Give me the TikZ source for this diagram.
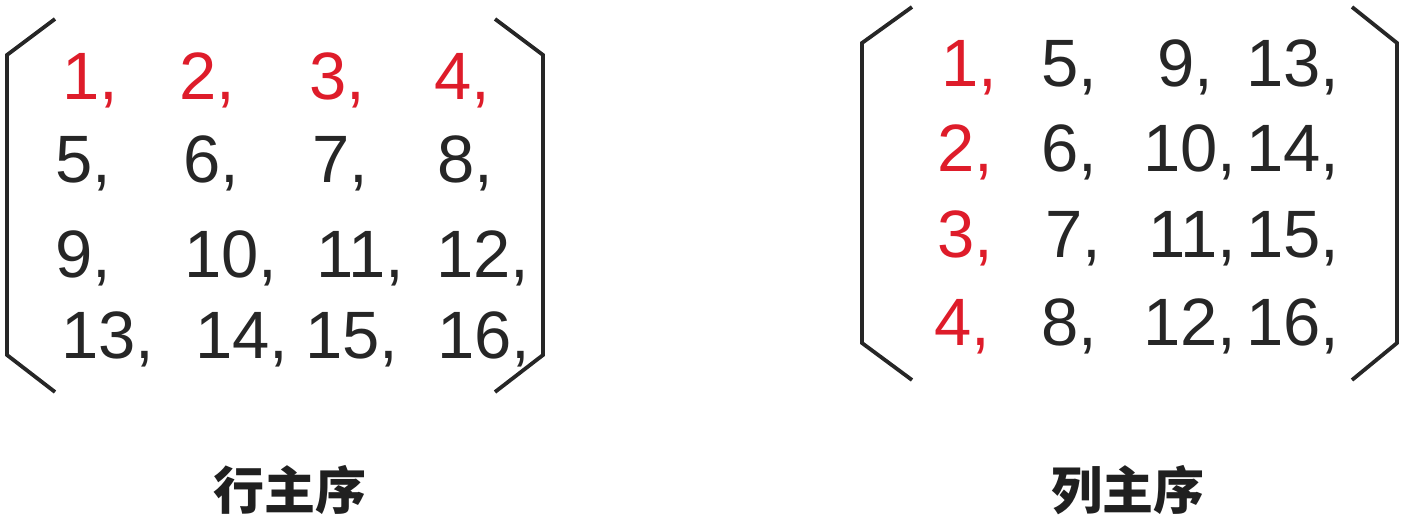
\documentclass[tikz,border=0pt]{standalone}
\usepackage{fontspec}
\setmainfont{Liberation Sans}
\newfontfamily\cjk{Noto Sans CJK SC}
\usepackage{tikz}
\usetikzlibrary{positioning}

\definecolor{numred}{RGB}{222,28,42}
\definecolor{numdark}{RGB}{38,38,38}

\begin{document}
\begin{tikzpicture}[
    x=1pt, y=-1pt,
    entry/.style={anchor=base west, inner sep=0pt, text=#1,
                  font=\fontsize{67}{80}\selectfont},
    entry/.default=numdark,
    brk/.style={line width=3.8pt, numdark, line join=miter},
    caption/.style={font=\cjk\bfseries\fontsize{51}{60}\selectfont, text=numdark!85!black},
]
\useasboundingbox (0,0) rectangle (1404,529);

% Row-major matrix
\node[entry=numred] (r11) at (62,100) {1,};
\node[entry=numred] (r12) at (179,100) {2,};
\node[entry=numred] (r13) at (309,100) {3,};
\node[entry=numred] (r14) at (434,100) {4,};
\node[entry] (r21) at (55,183) {5,};
\node[entry] (r22) at (183,183) {6,};
\node[entry] (r23) at (312,183) {7,};
\node[entry] (r24) at (437,183) {8,};
\node[entry] (r31) at (55,277) {9,};
\node[entry] (r32) at (184,277) {10,};
\node[entry] (r33) at (316,277) {11,};
\node[entry] (r34) at (436,277) {12,};
\node[entry] (r41) at (61,358) {13,};
\node[entry] (r42) at (195,358) {14,};
\node[entry] (r43) at (305,358) {15,};
\node[entry] (r44) at (437,358) {16,};

\draw[brk] (55,19) -- (7,55) -- (7,355) -- (55,392);
\draw[brk] (495,19) -- (543,55) -- (543,355) -- (495,392);

% Column-major matrix
\node[entry=numred] (c11) at (941,87) {1,};
\node[entry=numred] (c21) at (937,172) {2,};
\node[entry=numred] (c31) at (937,258) {3,};
\node[entry=numred] (c41) at (934,345) {4,};
\node[entry] (c12) at (1041,87) {5,};
\node[entry] (c22) at (1041,172) {6,};
\node[entry] (c32) at (1045,258) {7,};
\node[entry] (c42) at (1041,345) {8,};
\node[entry] (c13) at (1157,87) {9,};
\node[entry] (c23) at (1143,172) {10,};
\node[entry] (c33) at (1148,258) {11,};
\node[entry] (c43) at (1143,345) {12,};
\node[entry] (c14) at (1246,87) {13,};
\node[entry] (c24) at (1246,172) {14,};
\node[entry] (c34) at (1246,258) {15,};
\node[entry] (c44) at (1246,345) {16,};

\draw[brk] (912,7) -- (862,43) -- (862,343) -- (912,380);
\draw[brk] (1352,7) -- (1397,43) -- (1397,343) -- (1352,380);

% Captions
\node[caption] (rowcap) at (290,490) {行主序};
\node[caption] (colcap) at (1128,490) {列主序};

\end{tikzpicture}
\end{document}
